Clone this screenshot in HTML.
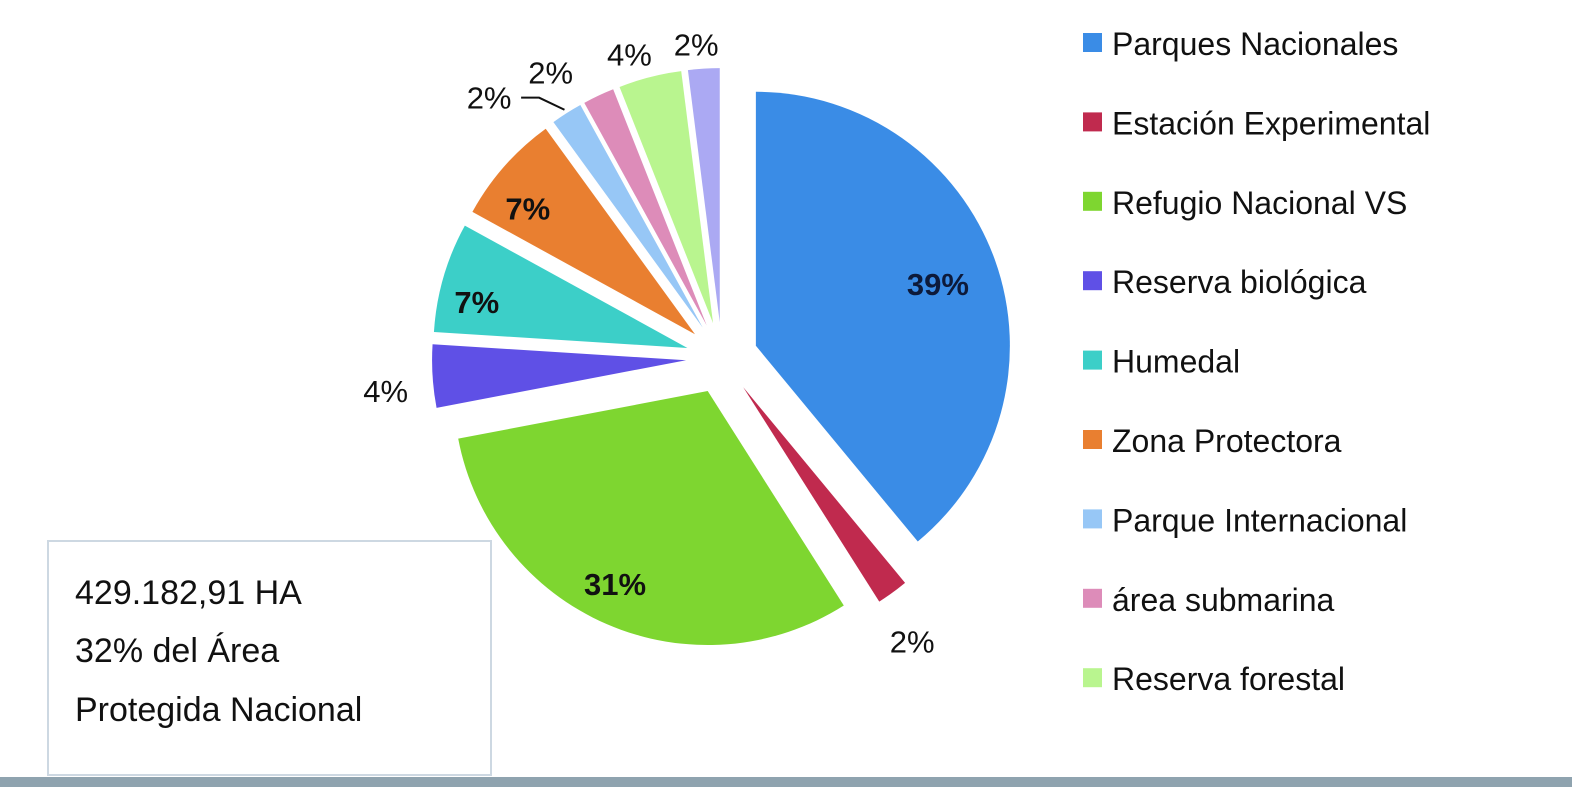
<!DOCTYPE html>
<html><head><meta charset="utf-8"><style>
html,body{margin:0;padding:0;background:#fff;}
svg{display:block;font-family:"Liberation Sans",sans-serif;}
</style></head><body>
<svg id="chart" width="1572" height="787" viewBox="0 0 1572 787">
<rect x="48" y="541" width="443" height="234" fill="#fff" stroke="#cdd8e2" stroke-width="2"/>
<text x="75" y="604" font-size="34" fill="#111">429.182,91 HA</text>
<text x="75" y="662" font-size="34" fill="#111">32% del Área</text>
<text x="75" y="721" font-size="34" fill="#111">Protegida Nacional</text>
<rect x="0" y="777" width="1572" height="10" fill="#8fa3af"/>
<g id="slices"></g>
<g id="legend"></g>
</svg>
<script>
const categories = ["Parques Nacionales","Estación Experimental","Refugio Nacional VS","Reserva biológica","Humedal","Zona Protectora","Parque Internacional","área submarina","Reserva forestal","Otro"];
const values = [39,2,31,4,7,7,2,2,4,2];
const labels = ["39%","2%","31%","4%","7%","7%","2%","2%","4%","2%"];
const colors = ["#3a8ce6","#c02a4e","#7ed630","#5f50e6","#3ccfc8","#e97f30","#97c7f6","#dd8cb9","#b9f58f","#aba9f3"];
const insideLabel = [true,false,true,false,true,true,false,false,false,false];
const legendCount = 9;
// label styling nudges (px), not data
const nudgeX = [10,-5,-20,-5,-35,-30,-55,-30,-10,-5];
const nudgeY = [0,15,25,12,5,-5,20,15,18,18];
const NS="http://www.w3.org/2000/svg";
const cx=722, cy=358, R=254, EX=36;
const total = values.reduce((a,b)=>a+b,0);
const g=document.getElementById('slices');
function pt(x,y,a,r){return [x+r*Math.sin(a), y-r*Math.cos(a)];}
let acc=0;
values.forEach((v,i)=>{
  const a0=acc/total*2*Math.PI; acc+=v; const a1=acc/total*2*Math.PI;
  const mid=(a0+a1)/2;
  const [ox,oy]=pt(cx,cy,mid,EX);
  const [x0,y0]=pt(ox,oy,a0,R), [x1,y1]=pt(ox,oy,a1,R);
  const p=document.createElementNS(NS,'path');
  p.setAttribute('d',`M${ox},${oy}L${x0},${y0}A${R},${R} 0 ${a1-a0>Math.PI?1:0} 1 ${x1},${y1}Z`);
  p.setAttribute('fill',colors[i]);
  
  
  g.appendChild(p);
  const t=document.createElementNS(NS,'text');
  const lr = insideLabel[i] ? R*0.72 : R+42;
  const [lx0,ly0]=pt(ox,oy,mid,lr);
  const lx=lx0+nudgeX[i], ly=ly0+nudgeY[i];
  t.setAttribute('x',lx); t.setAttribute('y',ly+11);
  t.setAttribute('text-anchor','middle');
  t.setAttribute('font-size','31');
  t.setAttribute('fill', i===0?'#0d1a3a':'#111');
  if(insideLabel[i]) t.setAttribute('font-weight','bold');
  t.textContent=labels[i];
  
  
  g.appendChild(t);
  if(i===6){
    const [ex,ey]=pt(ox,oy,mid,R+4);
    const l=document.createElementNS(NS,'polyline');
    l.setAttribute('points',`${lx+32},${ly} ${lx+50},${ly} ${ex},${ey}`);
    l.setAttribute('fill','none'); l.setAttribute('stroke','#111'); l.setAttribute('stroke-width','2');
    
    
    g.appendChild(l);
  }
});
const lg=document.getElementById('legend');
for(let i=0;i<legendCount;i++){
  const y=43+i*79.4;
  const r=document.createElementNS(NS,'rect');
  r.setAttribute('x',1083); r.setAttribute('y',y-10); r.setAttribute('width',19); r.setAttribute('height',19);
  r.setAttribute('fill',colors[i]);
  
  
  lg.appendChild(r);
  const t=document.createElementNS(NS,'text');
  t.setAttribute('x',1112); t.setAttribute('y',y+12);
  t.setAttribute('font-size','32'); t.setAttribute('fill','#111');
  t.textContent=categories[i];
  
  
  lg.appendChild(t);
}
</script>
</body></html>
